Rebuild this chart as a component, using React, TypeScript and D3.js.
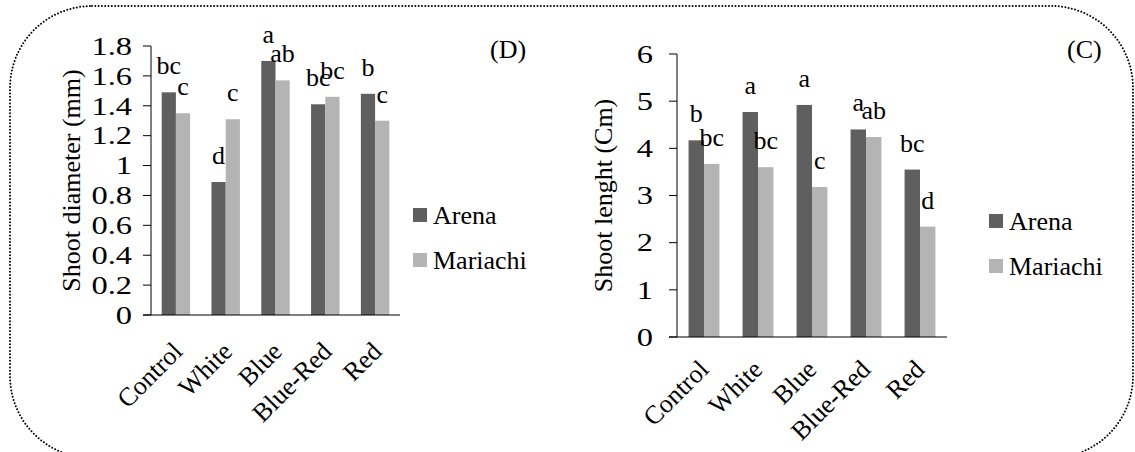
import React from "react";
import * as d3 from "d3";

// Light treatments
const categories = ["Control", "White", "Blue", "Blue-Red", "Red"];
const seriesNames = ["Arena", "Mariachi"];

// Panel (D): shoot diameter (mm)
const diameterArena = [1.49, 0.89, 1.7, 1.41, 1.48];
const diameterMariachi = [1.35, 1.31, 1.57, 1.46, 1.3];
const diameterArenaLetters = ["bc", "d", "a", "bc", "b"];
const diameterMariachiLetters = ["c", "c", "ab", "bc", "c"];
const diameterTicks = [0, 0.2, 0.4, 0.6, 0.8, 1, 1.2, 1.4, 1.6, 1.8];

// Panel (C): shoot length (cm)
const lengthArena = [4.17, 4.77, 4.92, 4.4, 3.55];
const lengthMariachi = [3.67, 3.6, 3.18, 4.24, 2.34];
const lengthArenaLetters = ["b", "a", "a", "a", "bc"];
const lengthMariachiLetters = ["bc", "bc", "c", "ab", "d"];
const lengthTicks = [0, 1, 2, 3, 4, 5, 6];

const COLORS = ["#5f5f5f", "#b4b4b4"];
const FONT = "Liberation Serif, DejaVu Serif, serif";

type PanelProps = {
  arena: number[];
  mariachi: number[];
  arenaLetters: string[];
  mariachiLetters: string[];
  ticks: number[];
  title: string;
  tag: string;
  x0: number;
  x1: number;
  yTop: number;
  yBottom: number;
  tickLabelX: number;
  catDx: number;
  catOffset: number;
  titleX: number;
  tagX: number;
  tagY: number;
  legendX: number;
  legendY: number;
};

function Panel(p: PanelProps) {
  const yMax = p.ticks[p.ticks.length - 1];
  const y = d3.scaleLinear().domain([0, yMax]).range([p.yBottom, p.yTop]);
  const x = d3.scaleBand<string>().domain(categories).range([p.x0, p.x1]).padding(0);
  const barW = x.bandwidth() / 3.5;
  const fmt = (v: number) => String(+v.toFixed(1));
  const series = [p.arena, p.mariachi];
  const letters = [p.arenaLetters, p.mariachiLetters];
  const yMid = (p.yTop + p.yBottom) / 2;
  const ts = { fontFamily: FONT };

  return (
    <g fill="#000">
      {/* bars */}
      {series.map((vals, s) =>
        vals.map((v, i) => {
          const bx = (x(categories[i]) as number) + x.bandwidth() / 2 - barW + s * barW;
          return (
            <rect
              key={`b${s}-${i}`}
              x={bx}
              y={y(v)}
              width={barW}
              height={y(0) - y(v)}
              fill={COLORS[s]}
            />
          );
        })
      )}
      {/* significance letters */}
      {series.map((vals, s) =>
        vals.map((v, i) => {
          const cx = (x(categories[i]) as number) + x.bandwidth() / 2 - barW + s * barW + barW / 2;
          return (
            <text key={`l${s}-${i}`} x={cx} y={y(v) - 18} textAnchor="middle" fontSize={26} style={ts}>
              {letters[s][i]}
            </text>
          );
        })
      )}
      {/* y axis */}
      <line x1={p.x0} x2={p.x0} y1={p.yTop} y2={p.yBottom} stroke="#000" strokeWidth={1} />
      <line x1={p.x0 - 8} x2={p.x1} y1={p.yBottom} y2={p.yBottom} stroke="#000" strokeWidth={1.2} />
      {p.ticks.map((t) => (
        <g key={`t${t}`}>
          <line x1={p.x0 - 8} x2={p.x0} y1={y(t)} y2={y(t)} stroke="#000" strokeWidth={1} />
          <text
            transform={`translate(${p.tickLabelX},${y(t)}) scale(1.3,1)`}
            dy="0.35em"
            textAnchor="end"
            fontSize={25}
            style={ts}
          >
            {fmt(t)}
          </text>
        </g>
      ))}
      {/* category labels */}
      {categories.map((c) => {
        const cx = (x(c) as number) + x.bandwidth() / 2;
        return (
          <text
            key={`c${c}`}
            transform={`translate(${cx + p.catDx},${p.yBottom + p.catOffset}) rotate(-45)`}
            textAnchor="end"
            fontSize={26}
            style={ts}
          >
            {c}
          </text>
        );
      })}
      {/* axis title */}
      <text
        transform={`translate(${p.titleX},${yMid}) rotate(-90)`}
        textAnchor="middle"
        fontSize={26}
        style={ts}
      >
        {p.title}
      </text>
      {/* panel tag */}
      <text x={p.tagX} y={p.tagY} fontSize={26} style={ts}>
        {p.tag}
      </text>
      {/* legend */}
      {seriesNames.map((n, s) => (
        <g key={`g${n}`} transform={`translate(${p.legendX},${p.legendY + s * 45})`}>
          <rect x={0} y={-7} width={14} height={14} fill={COLORS[s]} />
          <text x={20} y={0} dy="0.35em" fontSize={26} style={ts}>
            {n}
          </text>
        </g>
      ))}
    </g>
  );
}

export default function App() {
  return (
    <svg
      width={1135}
      height={452}
      style={{ position: "absolute", left: 0, top: 0, background: "#fff", fontFamily: FONT }}
    >
      <rect x={0} y={0} width={1135} height={452} fill="#fff" />
      <rect
        x={10}
        y={6}
        width={1123}
        height={452}
        rx={82}
        ry={82}
        fill="none"
        stroke="#000"
        strokeWidth={2}
        strokeDasharray="0 3.3"
        strokeLinecap="round"
      />
      <Panel
        arena={diameterArena}
        mariachi={diameterMariachi}
        arenaLetters={diameterArenaLetters}
        mariachiLetters={diameterMariachiLetters}
        ticks={diameterTicks}
        title="Shoot diameter (mm)"
        tag="(D)"
        x0={151}
        x1={400}
        yTop={46}
        yBottom={315}
        tickLabelX={132}
        catDx={8}
        catOffset={38}
        titleX={80}
        tagX={490}
        tagY={58}
        legendX={413}
        legendY={215}
      />
      <Panel
        arena={lengthArena}
        mariachi={lengthMariachi}
        arenaLetters={lengthArenaLetters}
        mariachiLetters={lengthMariachiLetters}
        ticks={lengthTicks}
        title="Shoot lenght (Cm)"
        tag="(C)"
        x0={677}
        x1={947}
        yTop={54}
        yBottom={337}
        tickLabelX={653}
        catDx={6}
        catOffset={34}
        titleX={612}
        tagX={1067}
        tagY={58}
        legendX={989}
        legendY={221}
      />
    </svg>
  );
}
